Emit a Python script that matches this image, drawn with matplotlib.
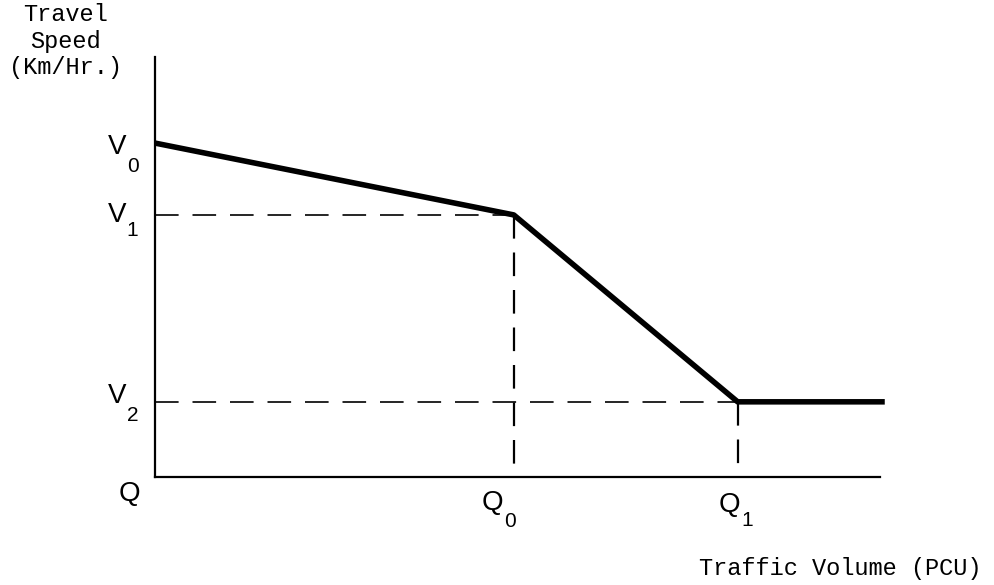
import matplotlib
matplotlib.use("Agg")
import matplotlib.pyplot as plt
from matplotlib.transforms import offset_copy

plt.rcParams['lines.scale_dashes'] = False

# piecewise speed-flow relation (Q axis 0..100, V axis 0..100)
flow = [0, 49.5, 80.4, 100.7]
speed = [79.5, 62.4, 17.9, 17.9]
q_subs = ['0', '1']
v_subs = ['0', '1', '2']

fig = plt.figure(figsize=(9.94, 5.85), dpi=100)
ax = fig.add_axes([0.156, 0.1846, 0.729, 0.718])
ax.set_xlim(0, 100)
ax.set_ylim(0, 100)

ax.plot(flow, speed, color='black', lw=4.0, solid_capstyle='butt', clip_on=False)

dash = (0, (17, 10))
q0, q1 = flow[1], flow[2]
v1, v2 = speed[1], speed[2]
ax.plot([0, q0], [v1, v1], color='black', lw=1.2, linestyle=dash)
ax.plot([q0, q0], [v1, 0], color='black', lw=1.6, linestyle=dash)
ax.plot([0, q1], [v2, v2], color='black', lw=1.2, linestyle=dash)
ax.plot([q1, q1], [v2, 0], color='black', lw=1.6, linestyle=dash)

for s in ['top', 'right']:
    ax.spines[s].set_visible(False)
for s in ['left', 'bottom']:
    ax.spines[s].set_linewidth(1.6)
ax.set_xticks([])
ax.set_yticks([])

sans = 'Liberation Sans'
mono = 'Liberation Mono'
fs, fs_sub = 20, 15


def label(x, y, main, sub, sub_dy):
    ax.text(x, y, main, ha='right', va='center', fontsize=fs, family=sans,
            transform=ax.transAxes)
    t2 = offset_copy(ax.transAxes, fig=fig, x=0.5, y=-sub_dy, units='points')
    ax.text(x, y, sub, ha='left', va='center', fontsize=fs_sub, family=sans,
            transform=t2)


# speed labels left of the axis, slightly shifted like the hand lettering
for sub, v, dy, sdy in zip(v_subs, speed[:3], [-0.9, 0.0, 1.4], [14, 11, 14]):
    label(-0.040, (v + dy) / 100, 'V', sub, sdy)

ax.text(-0.035, -0.04, 'Q', ha='center', va='center', fontsize=fs, family=sans,
        transform=ax.transAxes)
for sub, q, dx, y, sdy in zip(q_subs, [q0, q1], [-1.4, 0.4], [-0.062, -0.067], [13, 11]):
    label((q + dx) / 100, y, 'Q', sub, sdy)

fig.text(0.066, 0.995, 'Travel\nSpeed\n(Km/Hr.)', ha='center', va='top',
         fontsize=17, family=mono, linespacing=1.2)
fig.text(0.987, 0.028, 'Traffic Volume (PCU)', ha='right', va='center',
         fontsize=17, family=mono)

fig.savefig('out.png', dpi=100)
